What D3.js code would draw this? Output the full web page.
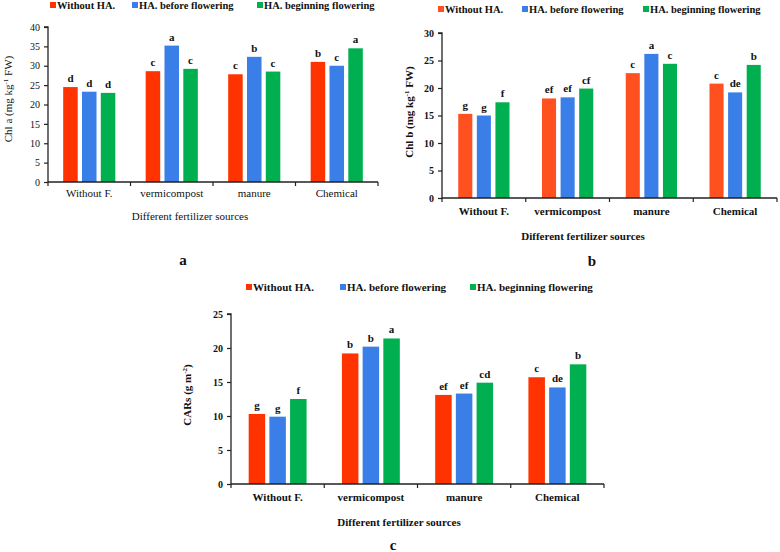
<!DOCTYPE html>
<html><head><meta charset="utf-8">
<script src="https://cdn.jsdelivr.net/npm/d3@7"></script>
<style>
body{margin:0;background:#fff}
svg{display:block}
text{font-family:"Liberation Serif","Times New Roman",serif;fill:#111}
</style></head>
<body>
<svg id="chart" width="780" height="552"></svg>
<script>
const categories = ["Without F.", "vermicompost", "manure", "Chemical"];
const seriesNames = ["Without HA.", "HA. before flowering", "HA. beginning flowering"];

// Panel a: Chl a (mg kg-1 FW)
const chlA_without = [24.5, 28.6, 27.8, 31.0];
const chlA_before  = [23.3, 35.2, 32.3, 30.0];
const chlA_begin   = [23.0, 29.2, 28.5, 34.5];
const chlA_letters = [["d","d","d"],["c","a","c"],["c","b","c"],["b","c","a"]];
const chlA_ticks = [0,5,10,15,20,25,30,35,40];

// Panel b: Chl b (mg kg-1 FW)
const chlB_without = [15.3, 18.1, 22.7, 20.8];
const chlB_before  = [15.0, 18.3, 26.2, 19.2];
const chlB_begin   = [17.4, 19.9, 24.4, 24.2];
const chlB_letters = [["g","g","f"],["ef","ef","cf"],["c","a","c"],["c","de","b"]];
const chlB_ticks = [0,5,10,15,20,25,30];

// Panel c: CARs (g m-2)
const cars_without = [10.3, 19.2, 13.1, 15.7];
const cars_before  = [9.9, 20.2, 13.3, 14.2];
const cars_begin   = [12.5, 21.4, 14.9, 17.6];
const cars_letters = [["g","g","f"],["b","b","a"],["ef","ef","cd"],["c","de","b"]];
const cars_ticks = [0,5,10,15,20,25];

const svg = d3.select("#chart");

const panels = [
  {id:"a", values:[chlA_without, chlA_before, chlA_begin], letters:chlA_letters, ticks:chlA_ticks,
   ylab:["Chl a (mg kg","-1"," FW)"], colors:["#ff3300","#3a7ee8","#00b050"],
   x0:48, x1:378, y0:182, y1:27, barFrac:0.176, stepFrac:0.228,
   legend:{y:5, items:[50,132,257]}, legFont:10.5,
   catY:197, titleY:220, titleX:190, labelX:183, labelY:265,
   ylabX:12, ylabY:99, weight:"normal", tickW:"normal"},
  {id:"b", values:[chlB_without, chlB_before, chlB_begin], letters:chlB_letters, ticks:chlB_ticks,
   ylab:["Chl b (mg kg","-1"," FW)"], colors:["#ff5020","#3a7ee8","#00b050"],
   x0:442, x1:777, y0:198, y1:33, barFrac:0.168, stepFrac:0.222,
   legend:{y:9, items:[438,522,643]}, legFont:10.5,
   catY:215, titleY:240, titleX:583, labelX:592, labelY:266,
   ylabX:413, ylabY:112, weight:"bold", tickW:"bold"},
  {id:"c", values:[cars_without, cars_before, cars_begin], letters:cars_letters, ticks:cars_ticks,
   ylab:["CARs (g m","-2",")"], colors:["#ff3300","#3a7ee8","#00b050"],
   x0:231, x1:604, y0:484, y1:314, barFrac:0.177, stepFrac:0.222,
   legend:{y:287, items:[246,340,470]}, legFont:11,
   catY:501, titleY:526, titleX:399, labelX:393, labelY:550,
   ylabX:191, ylabY:395, weight:"bold", tickW:"bold"}
];

panels.forEach(p => {
  const g = svg.append("g");
  const maxV = p.ticks[p.ticks.length-1];
  const x = d3.scaleBand().domain(categories).range([p.x0, p.x1]).paddingInner(0).paddingOuter(0);
  const y = d3.scaleLinear().domain([0, maxV]).range([p.y0, p.y1]);
  const bw = x.bandwidth();
  const step = bw * p.stepFrac, w = bw * p.barFrac;
  const inner = d3.scaleBand().domain(seriesNames)
    .range([-(2*step + w)/2, (2*step + w)/2]).paddingInner((step - w)/step).paddingOuter(0);

  // bars
  seriesNames.forEach((s, si) => {
    const vals = p.values[si];
    g.selectAll(null).data(categories).enter().append("rect")
      .attr("x", (c) => x(c) + bw/2 + inner(s))
      .attr("y", (c, i) => y(vals[i]))
      .attr("width", inner.bandwidth())
      .attr("height", (c, i) => p.y0 - y(vals[i]))
      .attr("fill", p.colors[si]);
    g.selectAll(null).data(categories).enter().append("text")
      .attr("x", (c) => x(c) + bw/2 + inner(s) + inner.bandwidth()/2)
      .attr("y", (c, i) => y(vals[i]) - 5)
      .attr("text-anchor", "middle")
      .attr("font-size", 11).attr("font-weight", "bold")
      .text((c, i) => p.letters[i][si]);
  });

  // y axis
  const yAxis = d3.axisLeft(y).tickValues(p.ticks).tickSize(4).tickPadding(4).tickFormat(d3.format("d"));
  const ya = g.append("g").attr("transform", `translate(${p.x0},0)`).call(yAxis);
  ya.select(".domain").attr("stroke", "#222").attr("stroke-width", 1.3).attr("d", `M-4,${p.y1}H0V${p.y0}`);
  ya.selectAll(".tick line").attr("stroke", "#222").attr("stroke-width", 1.2);
  ya.selectAll(".tick text").attr("font-size", 10).attr("font-weight", p.tickW)
    .style("font-family", '"Liberation Serif",serif').attr("fill", "#111");

  // x axis
  const bounds = categories.map(c => x(c)).concat([p.x1]);
  g.append("line").attr("x1", p.x0).attr("x2", p.x1).attr("y1", p.y0).attr("y2", p.y0)
    .attr("stroke", "#222").attr("stroke-width", 1.3);
  g.selectAll(null).data(bounds).enter().append("line")
    .attr("x1", d => d).attr("x2", d => d).attr("y1", p.y0).attr("y2", p.y0 + 4)
    .attr("stroke", "#222").attr("stroke-width", 1.2);
  g.selectAll(null).data(categories).enter().append("text")
    .attr("x", c => x(c) + bw/2).attr("y", p.catY)
    .attr("text-anchor", "middle").attr("font-size", 11).attr("font-weight", p.weight)
    .text(c => c);

  // axis title
  g.append("text").attr("x", p.titleX).attr("y", p.titleY).attr("text-anchor", "middle")
    .attr("font-size", 11).attr("font-weight", p.weight).text("Different fertilizer sources");

  // y label
  const yl = g.append("text").attr("transform", `translate(${p.ylabX},${p.ylabY}) rotate(-90)`)
    .attr("text-anchor", "middle").attr("font-size", 11).attr("font-weight", p.weight);
  yl.append("tspan").text(p.ylab[0]);
  yl.append("tspan").attr("font-size", 7).attr("dy", -4).text(p.ylab[1]);
  yl.append("tspan").attr("dy", 4).text(p.ylab[2]);

  // panel letter
  g.append("text").attr("x", p.labelX).attr("y", p.labelY).attr("text-anchor", "middle")
    .attr("font-size", 15).attr("font-weight", "bold").text(p.id);

  // legend
  seriesNames.forEach((s, si) => {
    const lx = p.legend.items[si];
    g.append("rect").attr("x", lx).attr("y", p.legend.y - 3).attr("width", 6).attr("height", 6)
      .attr("fill", p.colors[si]);
    g.append("text").attr("x", lx + 7).attr("y", p.legend.y + 3.5)
      .attr("font-size", p.legFont).attr("font-weight", "bold").text(s);
  });
});
</script>
</body></html>
